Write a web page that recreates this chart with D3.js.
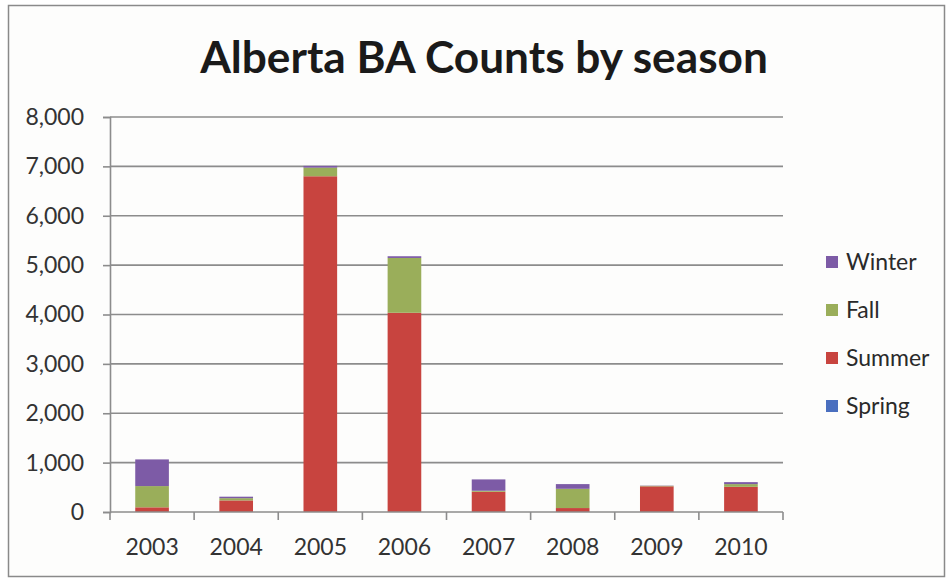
<!DOCTYPE html>
<html>
<head>
<meta charset="utf-8">
<script src="https://cdn.jsdelivr.net/npm/d3@7"></script>
<style>
  html, body { margin: 0; padding: 0; background: #ffffff; }
  svg { display: block; }
  text { font-family: Lato, "Open Sans", sans-serif; }
</style>
</head>
<body>
<svg id="chart" width="951" height="579"></svg>
<script>
// Alberta BA counts per year, split by season
const years = ["2003", "2004", "2005", "2006", "2007", "2008", "2009", "2010"];
const spring = [0, 0, 0, 0, 0, 0, 0, 0];
const summer = [95, 235, 6800, 4035, 410, 80, 520, 510];
const fall = [430, 45, 175, 1110, 20, 390, 10, 55];
const winter = [540, 30, 35, 35, 230, 95, 5, 40];
const seasons = ["Spring", "Summer", "Fall", "Winter"];
const yTicks = [0, 1000, 2000, 3000, 4000, 5000, 6000, 7000, 8000];

const colors = { Spring: "#4a6fbf", Summer: "#c8443f", Fall: "#9aae5a", Winter: "#7d5ba6" };
const seriesValues = { Spring: spring, Summer: summer, Fall: fall, Winter: winter };

const table = years.map((y, i) => {
  const row = { year: y };
  seasons.forEach(s => { row[s] = seriesValues[s][i]; });
  return row;
});

const svg = d3.select("#chart");

// outer frame
svg.append("rect")
  .attr("x", 8.5).attr("y", 5.5).attr("width", 936).attr("height", 571)
  .attr("fill", "#fdfdfc").attr("stroke", "#8a8a8a").attr("stroke-width", 1.5);

const plot = { left: 110, right: 783, top: 117, bottom: 512 };

const x = d3.scaleBand().domain(years).range([plot.left, plot.right]).paddingInner(0.6).paddingOuter(0.3);
const y = d3.scaleLinear().domain([0, 8000]).range([plot.bottom, plot.top]);

// horizontal gridlines
svg.append("g")
  .selectAll("line")
  .data(yTicks.filter(t => t > 0))
  .join("line")
  .attr("x1", plot.left).attr("x2", plot.right)
  .attr("y1", d => y(d)).attr("y2", d => y(d))
  .attr("stroke", "#8c8c8c").attr("stroke-width", 1.6);

// stacked bars
const stack = d3.stack().keys(seasons)(table);
svg.append("g")
  .selectAll("g")
  .data(stack)
  .join("g")
  .attr("fill", d => colors[d.key])
  .selectAll("rect")
  .data(d => d)
  .join("rect")
  .attr("x", d => x(d.data.year))
  .attr("width", x.bandwidth())
  .attr("y", d => y(d[1]))
  .attr("height", d => Math.max(0, y(d[0]) - y(d[1])));

// y axis
const yAxis = d3.axisLeft(y).tickValues(yTicks).tickFormat(d3.format(",")).tickSize(7).tickPadding(19);
const gy = svg.append("g").attr("transform", `translate(${plot.left},0)`).call(yAxis);
gy.select(".domain").attr("stroke", "#8c8c8c").attr("stroke-width", 1.6);
gy.selectAll(".tick line").attr("stroke", "#8c8c8c").attr("stroke-width", 1.6);
gy.selectAll(".tick text").attr("font-size", 23).attr("fill", "#333")
  .style("font-family", "Lato, sans-serif");

// x axis with ticks between categories
const xAxis = d3.axisBottom(x).tickSize(0).tickPadding(27);
const gx = svg.append("g").attr("transform", `translate(0,${plot.bottom})`).call(xAxis);
gx.select(".domain").remove();
gx.append("line").attr("x1", plot.left).attr("x2", plot.right)
  .attr("stroke", "#8c8c8c").attr("stroke-width", 1.6);
const bounds = d3.range(years.length + 1).map(i => plot.left + i * (plot.right - plot.left) / years.length);
gx.selectAll(".sep").data(bounds).join("line").attr("class", "sep")
  .attr("x1", d => d).attr("x2", d => d).attr("y1", 0).attr("y2", 8)
  .attr("stroke", "#8c8c8c").attr("stroke-width", 1.6);
gx.selectAll(".tick text").attr("font-size", 23).attr("fill", "#333")
  .style("font-family", "Lato, sans-serif");

// title, sized to span its line
const title = svg.append("text")
  .attr("x", 484).attr("y", 73)
  .attr("text-anchor", "middle")
  .attr("font-weight", "bold")
  .attr("font-size", 100)
  .attr("fill", "#1a1a1a")
  .text("Alberta BA Counts by season");
const tw = title.node().getComputedTextLength();
title.attr("font-size", 100 * 568 / tw);

// legend (top to bottom: Winter, Fall, Summer, Spring)
const legendOrder = ["Winter", "Fall", "Summer", "Spring"];
const lg = svg.append("g").attr("transform", "translate(826,262)");
const rows = lg.selectAll("g").data(legendOrder).join("g")
  .attr("transform", (d, i) => `translate(0,${i * 48})`);
rows.append("rect").attr("x", 0).attr("y", -6).attr("width", 12).attr("height", 12)
  .attr("fill", d => colors[d]);
rows.append("text").attr("x", 20).attr("y", 0).attr("dy", "0.36em")
  .attr("font-size", 23).attr("fill", "#2a2a2a").text(d => d);
</script>
</body>
</html>
